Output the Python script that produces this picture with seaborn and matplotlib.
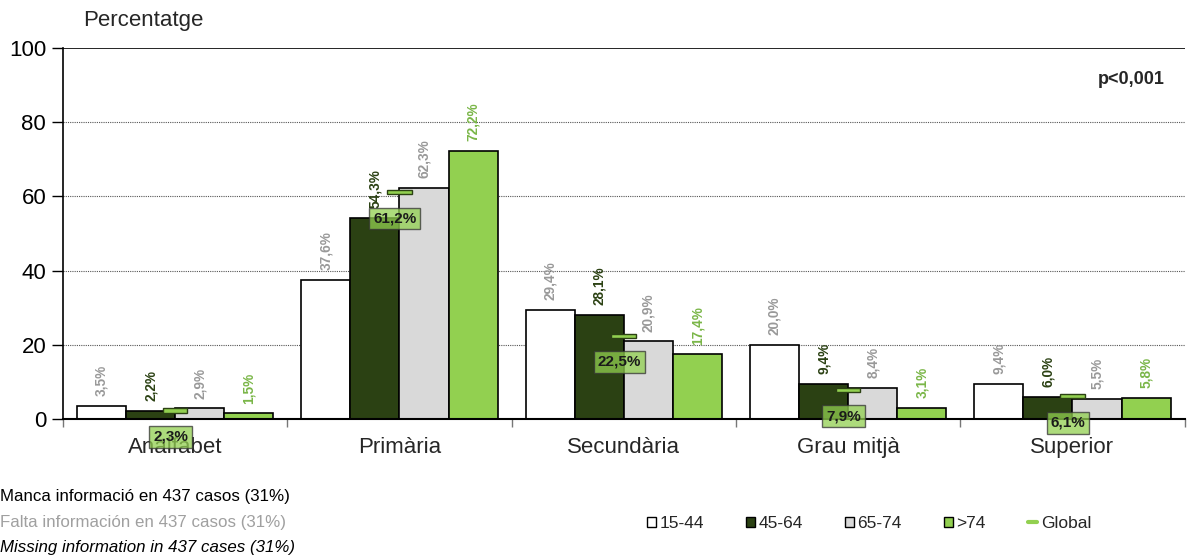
import numpy as np
import pandas as pd
import matplotlib
matplotlib.use("Agg")
import matplotlib.pyplot as plt
from matplotlib.patches import Patch
from matplotlib.lines import Line2D
import seaborn as sns

# data
levels = ["Analfabet", "Primària", "Secundària", "Grau mitjà", "Superior"]
age_groups = ["15-44", "45-64", "65-74", ">74"]
pct_15_44 = [3.5, 37.6, 29.4, 20.0, 9.4]
pct_45_64 = [2.2, 54.3, 28.1, 9.4, 6.0]
pct_65_74 = [2.9, 62.3, 20.9, 8.4, 5.5]
pct_75 = [1.5, 72.2, 17.4, 3.1, 5.8]
pct_global = [2.3, 61.2, 22.5, 7.9, 6.1]

bar_colors = ["#ffffff", "#2b4113", "#d9d9d9", "#92d050"]
label_colors = ["#999999", "#2b4113", "#999999", "#7ab648"]

df = pd.DataFrame({
    "nivell": levels * 4,
    "edat": np.repeat(age_groups, len(levels)),
    "pct": pct_15_44 + pct_45_64 + pct_65_74 + pct_75,
})

sns.set_style("white")
plt.rcParams["font.family"] = ["Liberation Sans", "DejaVu Sans"]

fig = plt.figure(figsize=(11.87, 5.59), dpi=100)
ax = fig.add_axes([0.053, 0.2504, 0.945, 0.6637])

sns.barplot(data=df, x="nivell", y="pct", hue="edat", hue_order=age_groups,
            palette=bar_colors, width=0.875, gap=0, edgecolor="black",
            linewidth=1.2, saturation=1, legend=False, ax=ax)

# rotated value labels over each bar
for cont, col in zip(ax.containers, label_colors):
    labs = [f"{b.get_height():.1f}%".replace(".", ",") for b in cont]
    ax.bar_label(cont, labels=labs, rotation=90, padding=7, color=col,
                 fontsize=9.8, fontweight="bold")

# global markers + boxed label
xpos = np.arange(len(levels))
ax.bar(xpos, 1.1, bottom=np.array(pct_global) - 0.55, width=0.11,
       color="#92d050", edgecolor="#2b4113", linewidth=1, zorder=4)
for x, g in zip(xpos, pct_global):
    ax.annotate(f"{g:.1f}%".replace(".", ","), (x - 0.02, g), xytext=(0, -19),
                textcoords="offset points", ha="center", va="center",
                fontsize=11, fontweight="bold", color="#1a1a1a", zorder=6,
                bbox=dict(boxstyle="square,pad=0.25", fc="#92d050", alpha=0.75,
                          ec="#333333", lw=1))

ax.set_ylim(0, 100)
ax.set_xlim(-0.5, len(levels) - 0.5)
ax.set_yticks(range(0, 101, 20))
ax.tick_params(axis="y", labelsize=16, length=8, width=1, direction="out",
               left=True, colors="black", pad=4)
ax.set_xticks(xpos)
ax.set_xticklabels(levels, fontsize=16)
ax.tick_params(axis="x", which="major", length=0, pad=13)
ax.set_xticks(np.arange(-0.5, len(levels)), minor=True)
ax.tick_params(axis="x", which="minor", length=6, width=1, color="#777777",
               direction="out", bottom=True)
ax.set_xlabel("")
ax.set_ylabel("")

for y in [20, 40, 60, 80]:
    ax.axhline(y, color="#555555", lw=0.8, ls=(0, (1, 1)), zorder=0)
ax.axhline(100, color="black", lw=1.2, zorder=0)

for s in ["top", "right"]:
    ax.spines[s].set_visible(False)
ax.spines["left"].set_color("black")
ax.spines["left"].set_linewidth(1.2)
ax.spines["bottom"].set_color("black")
ax.spines["bottom"].set_linewidth(1.5)

fig.text(0.07, 0.963, "Percentatge", fontsize=16, va="center", ha="left")
ax.text(0.982, 0.915, "p<0,001", transform=ax.transAxes, ha="right",
        va="center", fontsize=13, fontweight="bold")

fig.text(0.0, 0.111, "Manca informació en 437 casos (31%)", fontsize=12.2,
         va="center", color="black")
fig.text(0.0, 0.066, "Falta información en 437 casos (31%)", fontsize=12.2,
         va="center", color="#a0a0a0")
fig.text(0.0, 0.021, "Missing information in 437 cases (31%)", fontsize=12.2,
         va="center", color="black", style="italic")

handles = [Patch(facecolor=c, edgecolor="black", lw=1) for c in bar_colors]
handles.append(Line2D([0], [0], color="#92d050", lw=3))
fig.legend(handles, age_groups + ["Global"], loc="center left",
           bbox_to_anchor=(0.532, 0.064), ncol=5, frameon=False,
           fontsize=12.5, handlelength=0.5, handleheight=0.5,
           handletextpad=0.2, columnspacing=2.45)

fig.savefig("out.png", dpi=100)
